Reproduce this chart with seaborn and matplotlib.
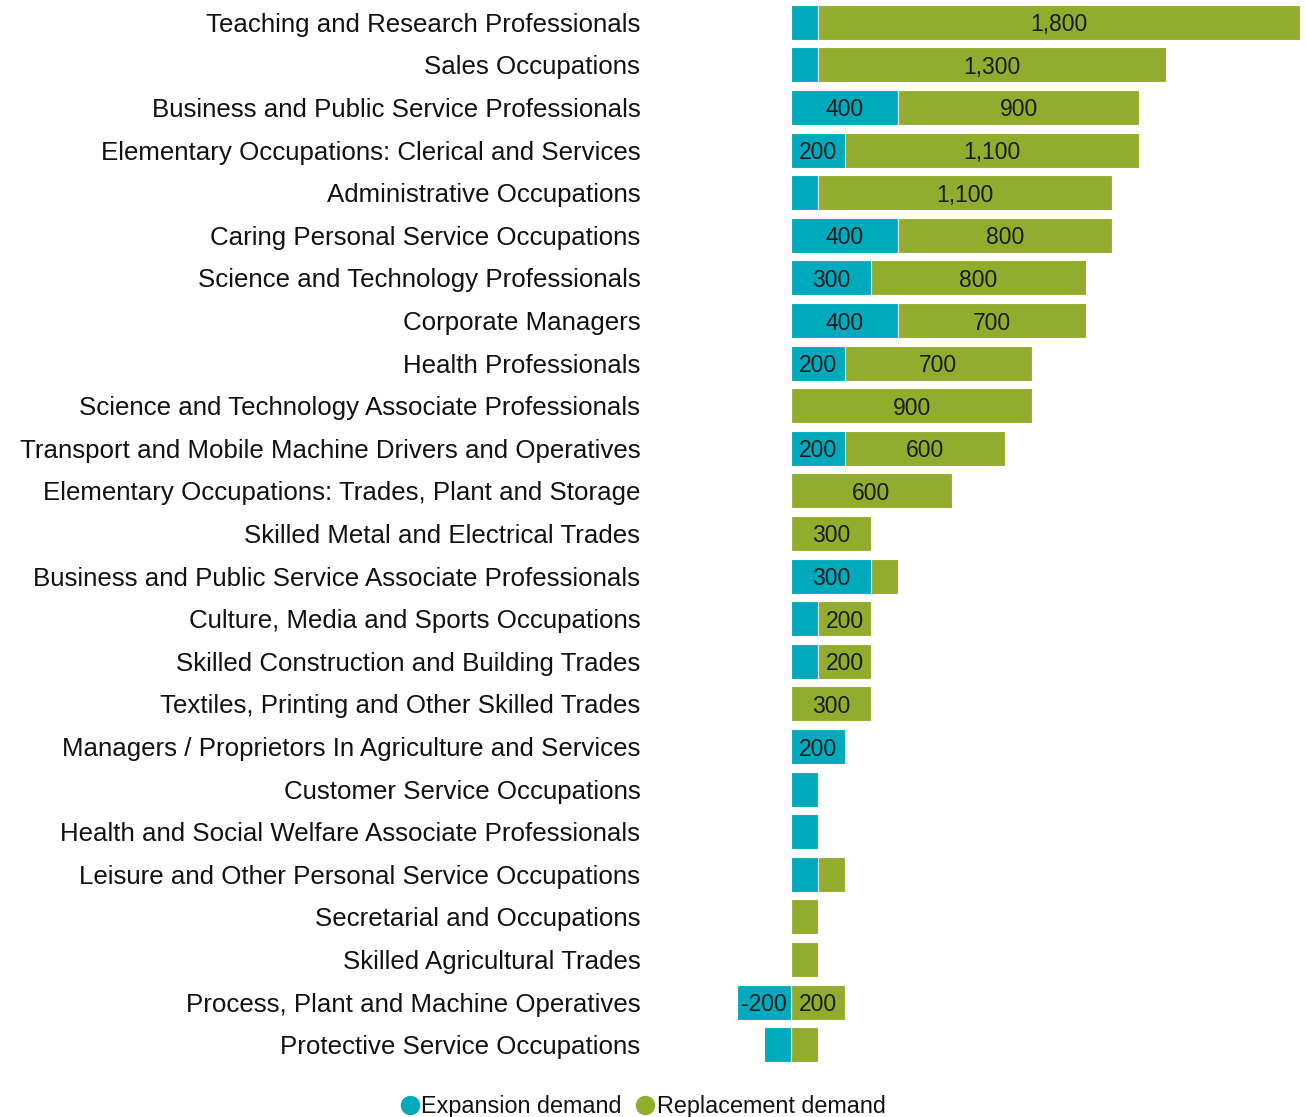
import matplotlib
matplotlib.use("Agg")
import matplotlib.pyplot as plt
from matplotlib.lines import Line2D
import seaborn as sns
import pandas as pd

occupations = [
    "Teaching and Research Professionals",
    "Sales Occupations",
    "Business and Public Service Professionals",
    "Elementary Occupations: Clerical and Services",
    "Administrative Occupations",
    "Caring Personal Service Occupations",
    "Science and Technology Professionals",
    "Corporate Managers",
    "Health Professionals",
    "Science and Technology Associate Professionals",
    "Transport and Mobile Machine Drivers and Operatives",
    "Elementary Occupations: Trades, Plant and Storage",
    "Skilled Metal and Electrical Trades",
    "Business and Public Service Associate Professionals",
    "Culture, Media and Sports Occupations",
    "Skilled Construction and Building Trades",
    "Textiles, Printing and Other Skilled Trades",
    "Managers / Proprietors In Agriculture and Services",
    "Customer Service Occupations",
    "Health and Social Welfare Associate Professionals",
    "Leisure and Other Personal Service Occupations",
    "Secretarial and Occupations",
    "Skilled Agricultural Trades",
    "Process, Plant and Machine Operatives",
    "Protective Service Occupations",
]
expansion = [100, 100, 400, 200, 100, 400, 300, 400, 200, 0, 200, 0, 0,
             300, 100, 100, 0, 200, 100, 100, 100, 0, 0, -200, -100]
replacement = [1800, 1300, 900, 1100, 1100, 800, 800, 700, 700, 900, 600, 600, 300,
               100, 200, 200, 300, 0, 0, 0, 100, 100, 100, 200, 100]

BLUE = "#00AABD"
GREEN = "#92AD2D"

df = pd.DataFrame({"occupation": occupations,
                   "expansion": expansion,
                   "replacement": replacement})
# positive values stack from the end of expansion, negatives stack separately
df["green_start"] = df["expansion"].clip(lower=0)
df["green_end"] = df["green_start"] + df["replacement"]

sns.set_theme(style="white")
plt.rcParams["font.family"] = ["Liberation Sans", "DejaVu Sans"]

fig = plt.figure(figsize=(13.06, 11.17), dpi=100)
ax = fig.add_axes([650 / 1306, 1 - 1066 / 1117, 650 / 1306, 1065 / 1117])

sns.barplot(data=df, y="occupation", x="green_end", color=GREEN, orient="h",
            width=0.82, edgecolor="white", linewidth=0.8, saturation=1, ax=ax)
sns.barplot(data=df, y="occupation", x="expansion", color=BLUE, orient="h",
            width=0.82, edgecolor="white", linewidth=0.8, saturation=1, ax=ax)

for i, row in df.iterrows():
    if abs(row["expansion"]) >= 200:
        ax.text(row["expansion"] / 2, i, f"{row['expansion']:,}", ha="center",
                va="center_baseline", fontsize=16.5, color="#1a1a1a")
    if row["replacement"] >= 200:
        ax.text((row["green_start"] + row["green_end"]) / 2, i,
                f"{row['replacement']:,}", ha="center", va="center_baseline",
                fontsize=16.5, color="#1a1a1a")

ax.set_xlim(-526, 1900)
ax.set_ylim(24.5, -0.5)
ax.set_xlabel("")
ax.set_ylabel("")
ax.set_xticks([])
ax.tick_params(axis="y", length=0, pad=7, labelsize=18.6, labelcolor="#111111")
sns.despine(ax=ax, left=True, bottom=True)

handles = [Line2D([0], [0], marker="o", linestyle="", markersize=13,
                  markerfacecolor=BLUE, markeredgecolor=BLUE),
           Line2D([0], [0], marker="o", linestyle="", markersize=13,
                  markerfacecolor=GREEN, markeredgecolor=GREEN)]
fig.legend(handles, ["Expansion demand", "Replacement demand"], loc="center",
           bbox_to_anchor=(642 / 1306, 1 - 1107 / 1117), ncol=2, frameon=False,
           fontsize=16.8, handletextpad=0.0, columnspacing=0.5, handlelength=1.0,
           labelcolor="#111111")

fig.savefig("out.png", dpi=100)
